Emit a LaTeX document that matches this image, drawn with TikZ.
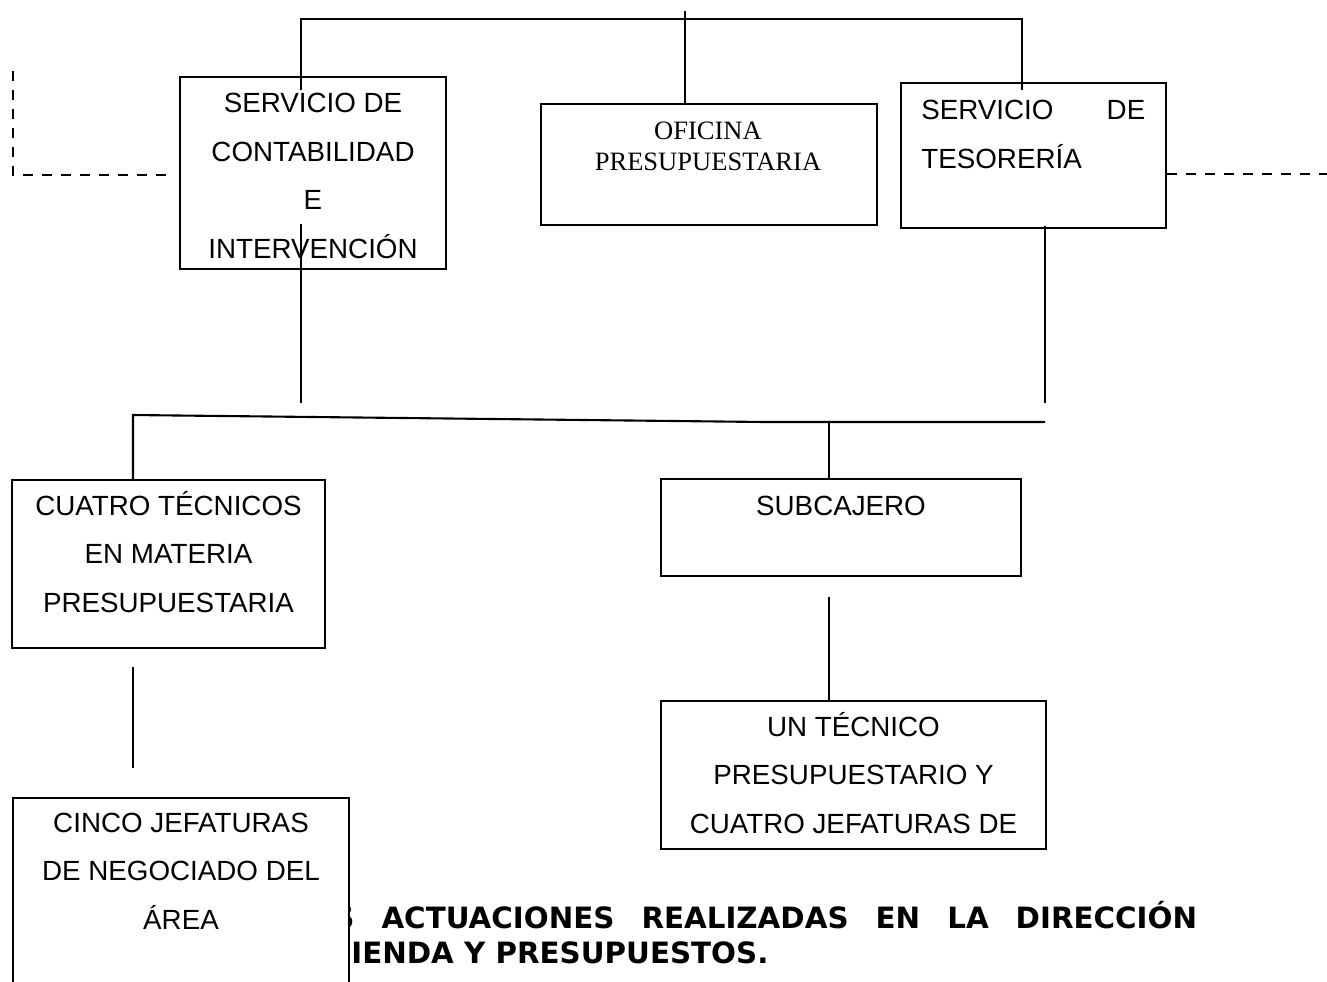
\documentclass[tikz,border=0pt]{standalone}
\usepackage{fontspec}
\setmainfont{Liberation Sans}
\newfontfamily\timesfont{Liberation Serif}
\newfontfamily\verdfont{DejaVu Sans}
\usepackage{tikz}
\usetikzlibrary{calc}

\tikzset{
	box/.style={draw, rectangle, inner sep=0pt, line width=1.2pt, fill=white},
	txt/.style={inner sep=0pt, align=center, anchor=base, font=\fontsize{15.8}{27.6}\selectfont},
	conn/.style={line width=1.2pt},
	dconn/.style={line width=1.2pt, dash pattern=on 0.2cm off 0.18cm}
}

\begin{document}
\begin{tikzpicture}[x=0.02cm,y=-0.02cm]
\useasboundingbox (0,0) rectangle (1327,981);
\clip (0,0) rectangle (1327,981);

	%titulo (tapado por la caja de abajo)
	\node[inner sep=0pt, anchor=base west, font=\verdfont\bfseries\fontsize{16.7}{20}\selectfont] (T1) at (333,928) {\makebox[17.28cm][s]{S ACTUACIONES REALIZADAS EN LA DIRECCIÓN}};
	\node[inner sep=0pt, anchor=base west, font=\verdfont\bfseries\fontsize{16.7}{20}\selectfont] (T2) at (351,963) {IENDA Y PRESUPUESTOS.};

	%cajas de arriba (texto: base = ultima linea)
	\node[box, minimum width=5.32cm, minimum height=3.84cm] (SC) at (313,173) {};
	\node[box, minimum width=6.72cm, minimum height=2.42cm] (OP) at (709,164.5) {};
	\node[box, minimum width=5.30cm, minimum height=2.90cm] (ST) at (1033.5,155.5) {};
	\node[txt] (SCt) at (313,258) {SERVICIO DE\\CONTABILIDAD\\E\\INTERVENCIÓN};
	\node[txt, font=\timesfont\fontsize{15.1}{17.6}\selectfont] (OPt) at (708,170) {OFICINA\\PRESUPUESTARIA};
	\node[txt, anchor=base west, align=left] (STt) at (921,168) {\makebox[4.48cm][l]{SERVICIO\hfill DE}\\TESORERÍA};

	%cajas de abajo
	\node[box, minimum width=6.26cm, minimum height=3.36cm] (CT) at (168.5,564) {};
	\node[box, minimum width=7.20cm, minimum height=1.94cm] (SB) at (841,527.5) {};
	\node[box, minimum width=7.70cm, minimum height=2.96cm] (UT) at (853.5,775) {};
	\node[box, minimum width=6.72cm, minimum height=4.24cm] (CJ) at (181,904) {};
	\node[txt] (CTt) at (168.5,612) {CUATRO TÉCNICOS\\EN MATERIA\\PRESUPUESTARIA};
	\node[txt] (SBt) at (841,515) {SUBCAJERO};
	\node[txt] (UTt) at (853.5,833) {UN TÉCNICO\\PRESUPUESTARIO Y\\CUATRO JEFATURAS DE};
	\node[txt] (CJt) at (181,929) {CINCO JEFATURAS\\DE NEGOCIADO DEL\\ÁREA};

	%lineas de arriba
	\coordinate (TL) at (301,19);
	\coordinate (TR) at (1022,19);
	\coordinate (TM) at (685,11);
	\coordinate (SCa) at (301,90);
	\coordinate (STa) at (1022,90);
	\draw[conn] (SCa) -- (TL) -- (TR) -- (STa);
	\draw[conn] (TM) -- (TM |- OP.north);

	%punteadas
	\coordinate (DL) at (13,71);
	\coordinate (DLe) at (173,175);
	\coordinate (DR) at (1327,174);
	\draw[dconn] (DL) |- (DLe);
	\draw[dconn] (DR -| ST.east) -- (DR);

	%lineas del medio
	\coordinate (SCb) at (301,224);
	\coordinate (SCc) at (301,403);
	\coordinate (STb) at (1045,226);
	\coordinate (STc) at (1045,403);
	\draw[conn] (SCb) -- (SCc);
	\draw[conn] (STb) -- (STc);
	\coordinate (ML) at (133,415);
	\coordinate (MM) at (765,422);
	\coordinate (MR) at (1045,422);
	\coordinate (MS) at (829,422);
	\draw[conn] (CT.north -| ML) -- (ML) -- (MM) -- (MR);
	\draw[conn] (MS) -- (MS |- SB.north);

	%lineas de abajo
	\coordinate (CTa) at (133,667);
	\coordinate (CTb) at (133,768);
	\coordinate (SBa) at (829,597);
	\draw[conn] (CTa) -- (CTb);
	\draw[conn] (SBa) -- (SBa |- UT.north);
\end{tikzpicture}
\end{document}
